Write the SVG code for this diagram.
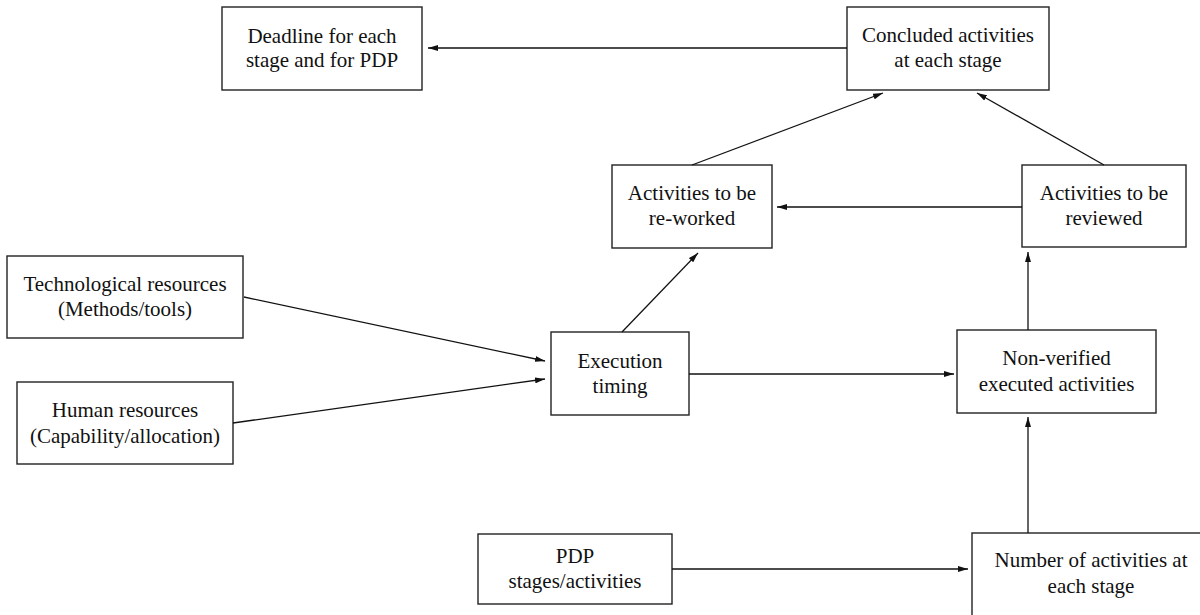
<svg xmlns="http://www.w3.org/2000/svg" width="1200" height="615" viewBox="0 0 1200 615">
<style>
rect.box{fill:#fff;stroke:#222;stroke-width:1.4}
text{font-size:21px;fill:#111;text-anchor:middle}
.conn line{stroke:#111;stroke-width:1.3;fill:none;marker-end:url(#ah)}
</style>
<defs>
<marker id="ah" markerUnits="userSpaceOnUse" markerWidth="10" markerHeight="6" refX="10" refY="3" orient="auto">
<path d="M0,0 L10,3 L0,6 z" fill="#111"/>
</marker>
</defs>
<rect width="1200" height="615" fill="#fff"/>
<g font-family="'Liberation Serif', 'DejaVu Serif', serif">
<g id="deadline"><rect class="box" x="222" y="7" width="200" height="83"/><text x="322" y="43">Deadline for each</text><text x="322" y="67">stage and for PDP</text></g>
<g id="concluded"><rect class="box" x="847" y="7" width="202" height="83"/><text x="948" y="42">Concluded activities</text><text x="948" y="67">at each stage</text></g>
<g id="reworked"><rect class="box" x="612" y="165" width="160" height="83"/><text x="692" y="200">Activities to be</text><text x="692" y="225">re-worked</text></g>
<g id="reviewed"><rect class="box" x="1022" y="165" width="164" height="82"/><text x="1104" y="200">Activities to be</text><text x="1104" y="225">reviewed</text></g>
<g id="tech"><rect class="box" x="7" y="256" width="236" height="82"/><text x="125" y="291">Technological resources</text><text x="125" y="316">(Methods/tools)</text></g>
<g id="human"><rect class="box" x="17" y="382" width="216" height="82"/><text x="125" y="417">Human resources</text><text x="125" y="443">(Capability/allocation)</text></g>
<g id="exec"><rect class="box" x="551" y="332" width="138" height="83"/><text x="620" y="368">Execution</text><text x="620" y="393">timing</text></g>
<g id="nonverified"><rect class="box" x="957" y="330" width="199" height="83"/><text x="1056.5" y="365">Non-verified</text><text x="1056.5" y="391">executed activities</text></g>
<g id="pdp"><rect class="box" x="478" y="534" width="194" height="70"/><text x="575" y="563">PDP</text><text x="575" y="588">stages/activities</text></g>
<g id="number"><rect class="box" x="972" y="533" width="240" height="90"/><text x="1091" y="567">Number of activities at</text><text x="1091" y="593">each stage</text></g>
</g>
<g id="connectors" class="conn">
<line x1="847" y1="48" x2="428" y2="48"/>
<line x1="692" y1="165" x2="883" y2="93"/>
<line x1="1104" y1="165" x2="977" y2="93"/>
<line x1="1022" y1="207" x2="777" y2="207"/>
<line x1="1028" y1="330" x2="1028" y2="252"/>
<line x1="622" y1="332" x2="698" y2="253"/>
<line x1="244" y1="297" x2="545" y2="361"/>
<line x1="233" y1="423" x2="545" y2="379"/>
<line x1="689" y1="374" x2="954" y2="374"/>
<line x1="1028" y1="533" x2="1028" y2="417"/>
<line x1="672" y1="569" x2="968" y2="569"/>
</g>
</svg>
